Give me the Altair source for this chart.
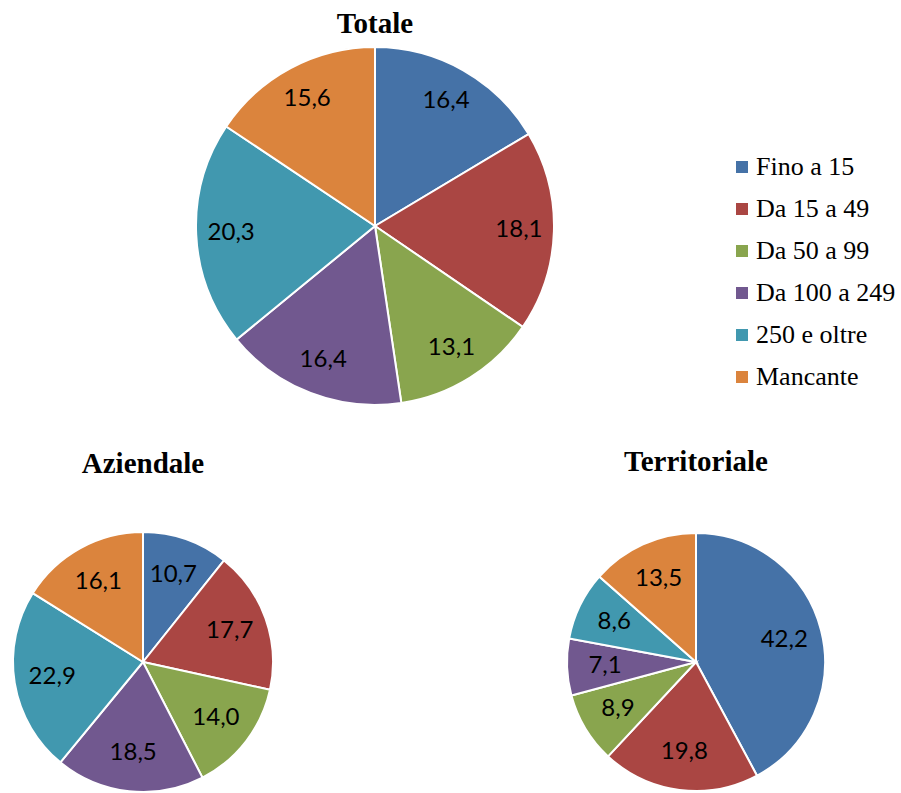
import altair as alt
import pandas as pd

# Classi dimensionali e quote percentuali per tipo di contrattazione
categories = ["Fino a 15", "Da 15 a 49", "Da 50 a 99", "Da 100 a 249", "250 e oltre", "Mancante"]
colors = ["#4572A7", "#AA4643", "#89A54E", "#71588F", "#4198AF", "#DB843D"]

totale = [16.4, 18.1, 13.1, 16.4, 20.3, 15.6]
aziendale = [10.7, 17.7, 14.0, 18.5, 22.9, 16.1]
territoriale = [42.2, 19.8, 8.9, 7.1, 8.6, 13.5]

W, H = 901, 793


def frame(values):
    return pd.DataFrame({
        "classe": categories,
        "ordine": list(range(len(categories))),
        "quota": values,
        "etichetta": [f"{v:.1f}".replace(".", ",") for v in values],
    })


color_enc = alt.Color(
    "classe:N",
    scale=alt.Scale(domain=categories, range=colors),
    sort=categories,
    legend=alt.Legend(
        title=None,
        orient="none",
        legendX=729,
        legendY=154,
        symbolType="square",
        symbolSize=144,
        symbolStrokeWidth=0,
        labelFont="Liberation Serif",
        labelFontSize=26,
        labelColor="#000000",
        labelOffset=1,
        rowPadding=16,
        padding=0,
    ),
)
color_nolegend = alt.Color(
    "classe:N",
    scale=alt.Scale(domain=categories, range=colors),
    sort=categories,
    legend=None,
)


def pie(values, cx, cy, r, label_r, with_legend=False):
    base = alt.Chart(frame(values)).encode(
        theta=alt.Theta("quota:Q", stack=True),
        order=alt.Order("ordine:Q", sort="ascending"),
        x=alt.value(cx),
        y=alt.value(cy),
    )
    arcs = base.mark_arc(outerRadius=r, stroke="white", strokeWidth=2).encode(
        color=color_enc if with_legend else color_nolegend
    )
    labels = base.mark_text(
        radius=label_r, font="Lato", fontSize=24, color="#000000",
        align="center", baseline="middle",
    ).encode(text="etichetta:N")
    return [arcs, labels]


def title(text, cx, cy):
    return alt.Chart(pd.DataFrame({"t": [text]})).mark_text(
        font="Liberation Serif", fontSize=29, fontWeight="bold",
        color="#000000", align="center", baseline="alphabetic",
    ).encode(text="t:N", x=alt.value(cx), y=alt.value(cy))


layers = []
layers += pie(totale, 375, 226, 179, 144, with_legend=True)
layers += pie(aziendale, 143, 662, 130, 92)
layers += pie(territoriale, 696, 662, 129, 91)
layers += [
    title("Totale", 375, 33),
    title("Aziendale", 143, 473),
    title("Territoriale", 696, 471),
]

chart = (
    alt.layer(*layers)
    .resolve_scale(theta="independent")
    .properties(width=W, height=H, padding=0, autosize=alt.AutoSizeParams(type="none"))
    .configure_view(stroke=None)
)

chart.save("out.html", embed_options={"renderer": "svg", "actions": False})
